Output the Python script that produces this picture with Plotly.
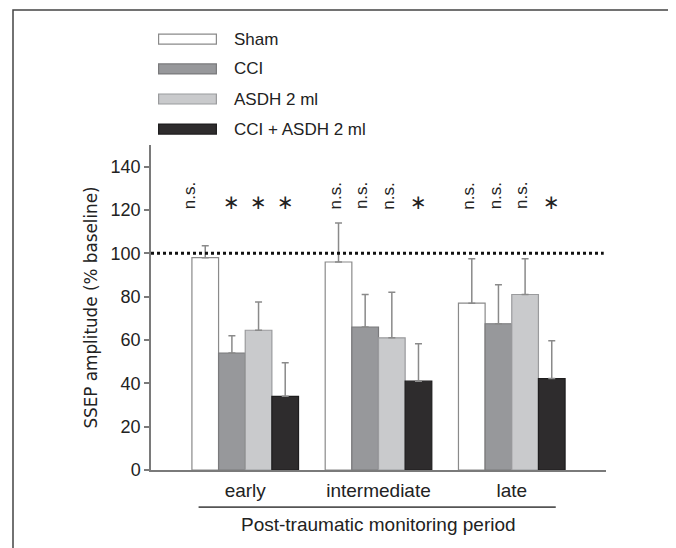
import plotly.graph_objects as go

periods = ["early", "intermediate", "late"]
series = ["Sham", "CCI", "ASDH 2 ml", "CCI + ASDH 2 ml"]
means = {
    "Sham": [98, 96, 77],
    "CCI": [54, 66, 67.5],
    "ASDH 2 ml": [64.5, 61, 81],
    "CCI + ASDH 2 ml": [34, 41, 42.2],
}
errors = {
    "Sham": [5.5, 18, 20.5],
    "CCI": [8, 15, 18],
    "ASDH 2 ml": [13, 21, 16.5],
    "CCI + ASDH 2 ml": [15.5, 17.3, 17.4],
}
signif = {
    "Sham": ["n.s.", "n.s.", "n.s."],
    "CCI": ["*", "n.s.", "n.s."],
    "ASDH 2 ml": ["*", "n.s.", "n.s."],
    "CCI + ASDH 2 ml": ["*", "*", "*"],
}
fills = ["#ffffff", "#97989b", "#c9cacc", "#2e2c2d"]
outlines = ["#8a8a8a", "#7a7a7c", "#9a9b9d", "#1e1d1e"]
y_ticks = [0, 20, 40, 60, 80, 100, 120, 140]
baseline = 100

FONT = "Liberation Sans, Arial, sans-serif"
AX = "#7a7a7a"
PAGE = 8  # default body margin of the html page

fig = go.Figure()
xs = list(range(len(periods)))
for i, s in enumerate(series):
    fig.add_trace(go.Bar(
        x=xs, y=means[s], name=s,
        marker=dict(color=fills[i], line=dict(color=outlines[i], width=1.2)),
        error_y=dict(type="data", array=errors[s], arrayminus=[0] * 3,
                     symmetric=False, color="#8a8a8a", thickness=1.5, width=3.5),
        showlegend=False,
    ))

# significance annotations
n = len(series)
bw = 0.8 / n
for i, s in enumerate(series):
    off = -0.4 + bw * (i + 0.5)
    for j, lab in enumerate(signif[s]):
        xx = xs[j] + off
        if lab == "n.s.":
            shift = -3 - (12 if (i == 0 and j == 0) else 0)
            fig.add_annotation(x=xx, y=126.5, xref="x", yref="y", text=lab,
                               textangle=-90, showarrow=False, xshift=shift,
                               font=dict(family=FONT, size=17, color="#222"))
        else:
            fig.add_annotation(x=xx, y=123.5, xref="x", yref="y", text="\u2217",
                               showarrow=False,
                               font=dict(family="DejaVu Sans", size=20, color="#222"))

# baseline dotted line
fig.add_shape(type="line", xref="paper", yref="y", x0=0, x1=0.995,
              y0=baseline, y1=baseline,
              line=dict(color="#111", width=3, dash="dot"))

# line under category labels + axis title
fig.add_shape(type="line", xref="x", yref="paper", x0=-0.35, x1=2.33,
              y0=-0.114, y1=-0.114, line=dict(color="#555", width=1.8))
fig.add_annotation(x=1, y=-0.169, xref="x", yref="paper", yanchor="middle",
                   text="Post-traumatic monitoring period", showarrow=False,
                   font=dict(family=FONT, size=19, color="#222"))

# custom legend
leg_y = [1.326, 1.234, 1.1415, 1.049]
for i, s in enumerate(series):
    fig.add_shape(type="rect", xref="paper", yref="paper",
                  x0=0.0167, x1=0.1437, y0=leg_y[i] - 0.0154, y1=leg_y[i] + 0.0154,
                  fillcolor=fills[i], line=dict(color=outlines[i], width=1.2))
    fig.add_annotation(x=0.178, y=leg_y[i], xref="paper", yref="paper",
                       text=s, showarrow=False, xanchor="left", yanchor="middle",
                       font=dict(family=FONT, size=17, color="#222"))

# outer frame
fig.add_shape(type="rect", xref="paper", yref="paper",
              x0=(13 - 151) / 455, x1=(675 - 151) / 455,
              y0=(470 - 560) / 325, y1=(470 - 10) / 325,
              line=dict(color="#444", width=1.5), fillcolor="rgba(0,0,0,0)")

fig.update_layout(
    width=676 - PAGE, height=548 - PAGE,
    margin=dict(l=151 - PAGE, r=70, t=145 - PAGE, b=78, autoexpand=False),
    paper_bgcolor="white", plot_bgcolor="white",
    barmode="group", bargap=0.2, bargroupgap=0,
    font=dict(family=FONT, color="#222"),
    xaxis=dict(range=[-0.707, 2.707], tickvals=xs, ticktext=periods,
               showline=True, linecolor=AX, linewidth=1.5, ticks="",
               showgrid=False, zeroline=False, ticklabelstandoff=2,
               tickfont=dict(family=FONT, size=19, color="#222")),
    yaxis=dict(range=[0, 150], tickvals=y_ticks, showline=True, linecolor=AX,
               linewidth=1.5, ticks="outside", ticklen=5, tickcolor=AX,
               tickwidth=1.5, showgrid=False, zeroline=False,
               tickfont=dict(family=FONT, size=18, color="#222"),
               title=dict(text="SSEP amplitude (% baseline)", standoff=9,
                          font=dict(family="DejaVu Sans", size=16.8, color="#222"))),
)

fig.write_html("out.html")
